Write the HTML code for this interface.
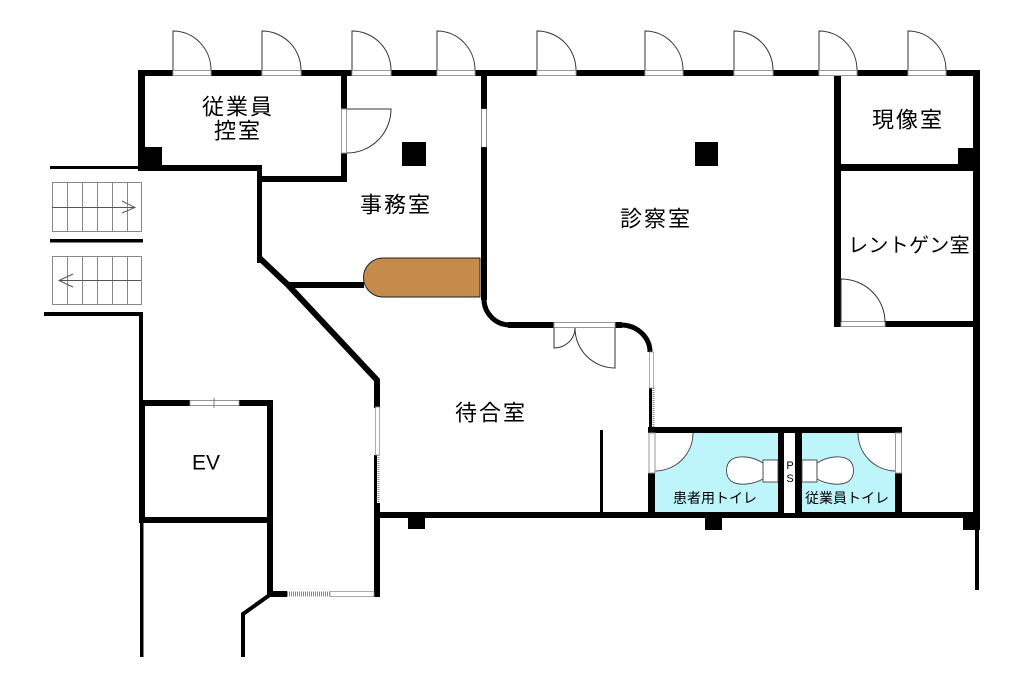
<!DOCTYPE html>
<html><head><meta charset="utf-8">
<style>html,body{margin:0;padding:0;background:#fff}svg{display:block}</style>
</head><body>
<svg width="1024" height="687" viewBox="0 0 1024 687" xmlns="http://www.w3.org/2000/svg">
<rect width="1024" height="687" fill="#fff"/>

<!-- cyan toilet fills -->
<rect x="655" y="433" width="123" height="79" fill="#BEF5FA"/>
<rect x="802" y="433" width="94" height="79" fill="#BEF5FA"/>
<path d="M655,433 L693,433 A38,38 0 0 1 655,471 Z" fill="#fff"/>
<path d="M896,433 L858,433 A38,38 0 0 0 896,471 Z" fill="#fff"/>
<path d="M693,433 A38,38 0 0 1 655,471" fill="none" stroke="#444" stroke-width="1"/>
<path d="M858,433 A38,38 0 0 0 896,471" fill="none" stroke="#444" stroke-width="1"/>

<!-- walls -->
<g fill="#000">
  <!-- top outer wall -->
  <rect x="138" y="70" width="842" height="6"/>
  <!-- right outer wall -->
  <rect x="973" y="70" width="7" height="460"/>
  <rect x="975" y="528" width="4" height="62"/>
  <!-- 控室 -->
  <rect x="138" y="70" width="7" height="101"/>
  <rect x="138" y="165" width="124" height="6"/>
  <rect x="138" y="147" width="24" height="24"/>
  <rect x="257" y="165" width="5" height="98"/>
  <rect x="257" y="176" width="90" height="6"/>
  <rect x="341" y="70" width="6" height="112"/>
  <!-- 事務室 / 診察室 wall -->
  <rect x="481" y="70" width="6" height="230"/>
  <!-- 事務室 bottom wall -->
  <rect x="287" y="282" width="77" height="6"/>
  <!-- columns -->
  <rect x="402" y="142" width="24" height="24"/>
  <rect x="695" y="142" width="23" height="24"/>
  <rect x="958" y="148" width="22" height="23"/>
  <rect x="408" y="517" width="17" height="12"/>
  <rect x="705" y="517" width="17" height="13"/>
  <rect x="963" y="512" width="17" height="18"/>
  <!-- 現像室 / レントゲン -->
  <rect x="834" y="70" width="7" height="257"/>
  <rect x="834" y="164" width="146" height="7"/>
  <rect x="834" y="321" width="146" height="6"/>
  <!-- 診察室 bottom -->
  <rect x="508" y="322" width="46" height="6"/>
  <rect x="615" y="322" width="7" height="6"/>
  <!-- waiting room bottom wall -->
  <rect x="374" y="512" width="606" height="6"/>
  <!-- waiting left wall lower -->
  <rect x="374" y="503" width="6" height="94"/>
  <rect x="374" y="455" width="3" height="48"/>
  <!-- waiting right -->
  <rect x="649" y="388" width="3" height="40"/>
  <!-- free wall -->
  <rect x="600" y="430" width="3" height="82"/>
  <!-- toilets -->
  <rect x="648" y="427" width="254" height="6"/>
  <rect x="648" y="473" width="7" height="44"/>
  <rect x="778" y="433" width="6" height="80"/>
  <rect x="795" y="433" width="7" height="80"/>
  <rect x="895" y="473" width="7" height="44"/>
  <!-- left stair lines -->
  <rect x="50" y="166" width="90" height="3"/>
  <rect x="50" y="239" width="93" height="3.5"/>
  <rect x="44" y="312" width="99" height="4"/>
  <rect x="139" y="312" width="4" height="90"/>
  <!-- EV -->
  <rect x="139" y="400" width="134" height="6"/>
  <rect x="139" y="400" width="6" height="123"/>
  <rect x="267" y="400" width="6" height="197"/>
  <rect x="139" y="517" width="134" height="6"/>
  <rect x="140" y="520" width="3.5" height="137"/>
  <!-- bottom corridor -->
  <rect x="267" y="591" width="20" height="6"/>
</g>

<!-- diagonal wall -->
<polyline points="259.5,258 288,285 377,380 377,408" fill="none" stroke="#000" stroke-width="6" stroke-linejoin="miter"/>
<polyline points="271,594 243,614 243,657" fill="none" stroke="#000" stroke-width="4" stroke-linejoin="miter"/>

<!-- curved walls 診察室 -->
<path d="M484,298 A26,26 0 0 0 510,325" fill="none" stroke="#000" stroke-width="5"/>
<path d="M621,325 A29,27 0 0 1 650,352" fill="none" stroke="#000" stroke-width="5"/>

<!-- windows -->
<rect x="481.5" y="109" width="5" height="38" fill="#fff" stroke="#999" stroke-width="0.8" stroke-dasharray="1.2,1"/>
<rect x="375.5" y="407" width="4" height="48" fill="#fff" stroke="#999" stroke-width="0.8"/>
<line x1="378.5" y1="455" x2="378.5" y2="503" stroke="#888" stroke-width="2" stroke-dasharray="1,1"/>
<rect x="649.5" y="352" width="4" height="36" fill="#fff" stroke="#999" stroke-width="0.8"/>
<line x1="653.5" y1="388" x2="653.5" y2="427" stroke="#888" stroke-width="2" stroke-dasharray="1,1"/>
<rect x="190" y="400.5" width="49" height="5" fill="#fff" stroke="#999" stroke-width="0.8"/>
<line x1="214" y1="398" x2="214" y2="408" stroke="#666" stroke-width="0.8"/>
<line x1="287" y1="594" x2="330" y2="594" stroke="#888" stroke-width="5" stroke-dasharray="1,1"/>
<rect x="330" y="591.5" width="44" height="5" fill="#fff" stroke="#999" stroke-width="0.8"/>

<!-- top doors -->
<g fill="none" stroke="#333" stroke-width="1">
  <g>
    <rect x="173" y="70.5" width="38" height="5" fill="#fff" stroke="#999"/>
    <path d="M173,70 V31 A38,39 0 0 1 211,70"/>
    <rect x="262" y="70.5" width="39" height="5" fill="#fff" stroke="#999"/>
    <path d="M262,70 V31 A39,39 0 0 1 301,70"/>
    <rect x="352" y="70.5" width="39" height="5" fill="#fff" stroke="#999"/>
    <path d="M352,70 V31 A39,39 0 0 1 391,70"/>
    <rect x="437" y="70.5" width="38" height="5" fill="#fff" stroke="#999"/>
    <path d="M437,70 V31 A38,39 0 0 1 475,70"/>
    <rect x="537" y="70.5" width="39" height="5" fill="#fff" stroke="#999"/>
    <path d="M537,70 V31 A39,39 0 0 1 576,70"/>
    <rect x="645" y="70.5" width="38" height="5" fill="#fff" stroke="#999"/>
    <path d="M645,70 V31 A38,39 0 0 1 683,70"/>
    <rect x="734" y="70.5" width="39" height="5" fill="#fff" stroke="#999"/>
    <path d="M734,70 V31 A39,39 0 0 1 773,70"/>
    <rect x="819" y="70.5" width="38" height="5" fill="#fff" stroke="#999"/>
    <path d="M819,70 V31 A38,39 0 0 1 857,70"/>
    <rect x="908" y="70.5" width="38" height="5" fill="#fff" stroke="#999"/>
    <path d="M908,70 V31 A38,39 0 0 1 946,70"/>
  </g>
  <!-- 控室 door -->
  <rect x="341.5" y="109" width="5" height="44" fill="#fff" stroke="#999"/>
  <path d="M347,109 H391 A44,44 0 0 1 347,153"/>
  <!-- レントゲン door -->
  <rect x="841" y="321.5" width="44" height="5" fill="#fff" stroke="#999"/>
  <path d="M841,322 V279 A44,43 0 0 1 885,322"/>
  <!-- double door -->
  <rect x="554" y="322.5" width="61" height="5" fill="#fff" stroke="#999"/>
  <path d="M554,328 V348 A21,20 0 0 0 575,328"/>
  <path d="M615,328 V368 A40,40 0 0 1 575,328"/>
  <!-- toilet door frames -->
  <rect x="649" y="433" width="6" height="40" fill="#fff" stroke="#999"/>
  <rect x="895.5" y="433" width="6" height="40" fill="#fff" stroke="#999"/>
</g>
<rect x="784" y="433" width="11" height="80" fill="#fff"/>

<!-- toilets -->
<g fill="#fff" stroke="#444" stroke-width="0.9">
  <rect x="763" y="460" width="15" height="22"/>
  <path d="M763,463 C752,456 738,455 731,460 C725,465 725,476 731,481 C738,486 752,485 763,479 Z"/>
  <rect x="802" y="460" width="15" height="22"/>
  <path d="M817,463 C828,456 842,455 849,460 C855,465 855,476 849,481 C842,486 828,485 817,479 Z"/>
</g>

<!-- orange counter -->
<path d="M480,258 H383 A19.5,19.5 0 0 0 383,297 H480 Z" fill="#C48B4A" stroke="#222" stroke-width="1"/>

<!-- stairs -->
<g fill="none" stroke="#888" stroke-width="1">
  <rect x="52.5" y="182.5" width="89" height="49"/>
  <path d="M67.5,182 V231 M82.5,182 V231 M97.5,182 V231 M112.5,182 V231 M127.5,182 V231"/>
  <rect x="52.5" y="256.5" width="89" height="48"/>
  <path d="M67.5,256 V304 M82.5,256 V304 M97.5,256 V304 M112.5,256 V304 M127.5,256 V304"/>
</g>
<g fill="none" stroke="#555" stroke-width="1">
  <path d="M52,207.5 H135 M122,201 L135,207.5 L122,213"/>
  <path d="M141,280.5 H59 M73,274 L59,280.5 L73,287"/>
</g>

<!-- labels -->
<g font-family="'Liberation Sans','Noto Sans CJK JP',sans-serif" fill="#000" text-anchor="middle" dominant-baseline="central">
  <text x="238" y="107" font-size="22" letter-spacing="2">従業員</text>
  <text x="238" y="131" font-size="22" letter-spacing="2">控室</text>
  <text x="396" y="205" font-size="22" letter-spacing="2">事務室</text>
  <text x="656" y="219" font-size="22" letter-spacing="2">診察室</text>
  <text x="908" y="120" font-size="22" letter-spacing="2">現像室</text>
  <text x="909" y="246" font-size="20" letter-spacing="0.3">レントゲン室</text>
  <text x="491" y="413" font-size="22" letter-spacing="2">待合室</text>
  <text x="206" y="463" font-size="21">EV</text>
  <text x="715" y="498" font-size="14">患者用トイレ</text>
  <text x="847" y="498" font-size="14">従業員トイレ</text>
  <text x="790" y="466" font-size="11">P</text>
  <text x="790" y="479" font-size="11">S</text>
</g>
</svg>
</body></html>
